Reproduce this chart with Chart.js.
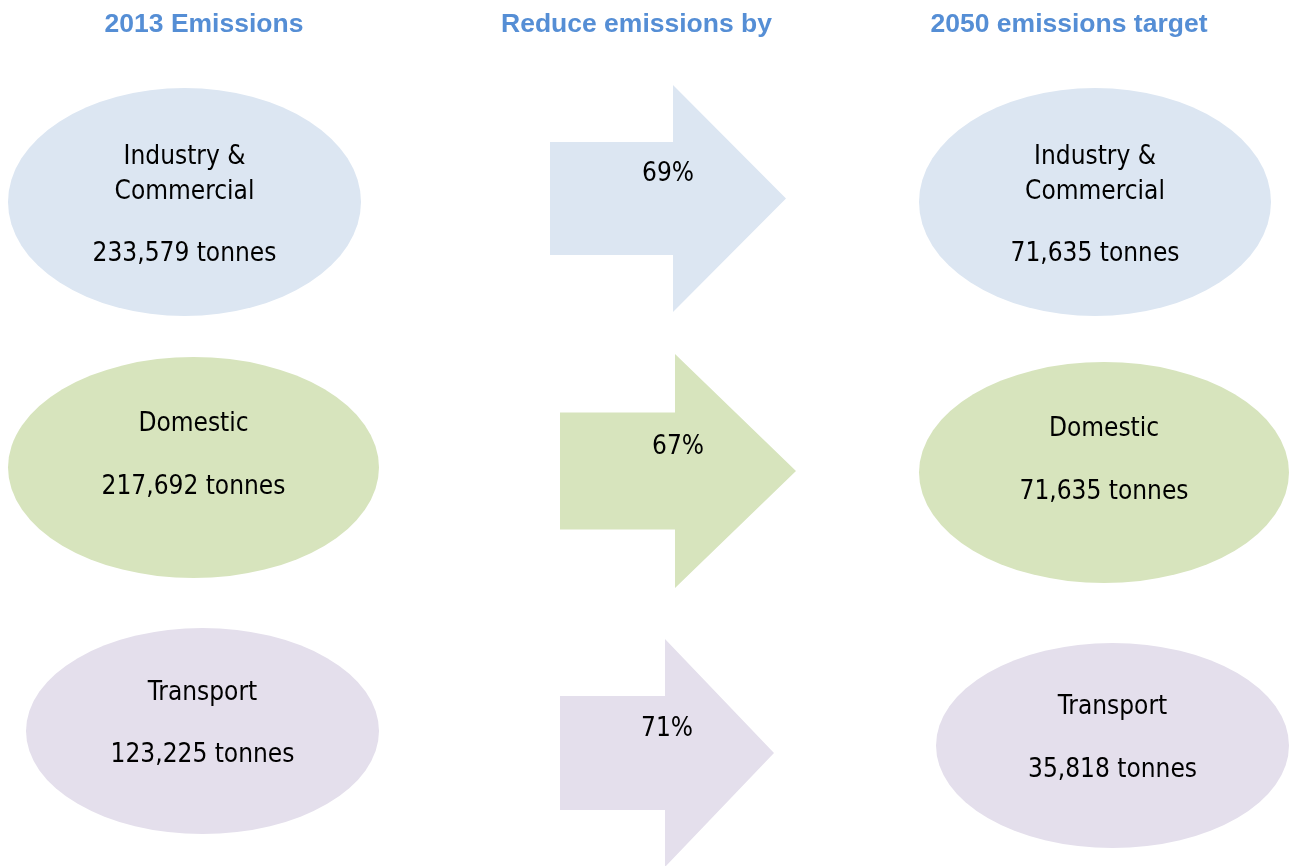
<!DOCTYPE html>
<html>
<head>
<meta charset="utf-8">
<title>Emissions reduction targets</title>
<script src="https://cdn.jsdelivr.net/npm/chart.js@4"></script>
<style>
  html, body { margin: 0; padding: 0; background: #fff; }
  #wrap { position: relative; width: 1289px; height: 866px; }
</style>
</head>
<body>
<div id="wrap"><canvas id="emissionsChart"></canvas></div>
<script>
// data
const columns = ['2013 Emissions', 'Reduce emissions by', '2050 emissions target'];
const sectors = ['Industry & Commercial', 'Domestic', 'Transport'];
const sectorLines = [['Industry &', 'Commercial'], ['Domestic'], ['Transport']];
const emissions2013 = [233579, 217692, 123225];
const reductionPct = [69, 67, 71];
const target2050 = [71635, 71635, 35818];

// styling (per row): fill colour, ellipse size/nudge, arrow shape
const fills = ['#dce6f2', '#d7e4bd', '#e4dfec'];
const rowStyle = [
  { left: { dx: -19.5, dy: 0, rx: 176.5, ry: 114 },
    right: { dx: 26, dy: 0, rx: 176, ry: 114 },
    arrow: { x0: -86.5, xHead: 36.5, xTip: 149.5, dy: -3.5, body: 56.5, head: 113.5 },
    textDy: 52.5 },
  { left: { dx: -10.5, dy: -2.5, rx: 185.5, ry: 110.5 },
    right: { dx: 35, dy: 2.5, rx: 185, ry: 110.5 },
    arrow: { x0: -76.5, xHead: 38.5, xTip: 159.5, dy: 1, body: 58.5, head: 117 },
    textDy: 19.5 },
  { left: { dx: -1.5, dy: -7, rx: 176.5, ry: 103 },
    right: { dx: 43.5, dy: 7.5, rx: 176.5, ry: 102.5 },
    arrow: { x0: -76.5, xHead: 28.5, xTip: 137.5, dy: 15, body: 57, head: 114 },
    textDy: 24.5 }
];
const bodyFont = '26px "DejaVu Sans Condensed", "DejaVu Sans", sans-serif';
const titleFont = 'bold 26.5px "Liberation Sans", Arial, sans-serif';
const titleColor = '#558ed5';
const lineGap = 35;

function fmt(n) { return n.toLocaleString('en-US'); }

function ellipseCentre(pt, s) {
  return { x: pt.x + s.dx, y: pt.y + s.dy };
}

const shapesPlugin = {
  id: 'shapes',
  beforeDatasetsDraw(chart) {
    const ctx = chart.ctx;
    chart.data.datasets.forEach((ds, di) => {
      const meta = chart.getDatasetMeta(di);
      meta.data.forEach((pt, i) => {
        const st = rowStyle[i];
        ctx.save();
        ctx.fillStyle = fills[i];
        if (ds.kind === 'arrow') {
          const a = st.arrow;
          const cy = pt.y + a.dy;
          ctx.beginPath();
          ctx.moveTo(pt.x + a.x0, cy - a.body);
          ctx.lineTo(pt.x + a.xHead, cy - a.body);
          ctx.lineTo(pt.x + a.xHead, cy - a.head);
          ctx.lineTo(pt.x + a.xTip, cy);
          ctx.lineTo(pt.x + a.xHead, cy + a.head);
          ctx.lineTo(pt.x + a.xHead, cy + a.body);
          ctx.lineTo(pt.x + a.x0, cy + a.body);
          ctx.closePath();
          ctx.fill();
        } else {
          const s = st[ds.kind];
          const c = ellipseCentre(pt, s);
          ctx.beginPath();
          ctx.ellipse(c.x, c.y, s.rx, s.ry, 0, 0, Math.PI * 2);
          ctx.fill();
        }
        ctx.restore();
      });
    });
  },
  afterDatasetsDraw(chart) {
    const ctx = chart.ctx;
    ctx.save();
    ctx.fillStyle = '#000';
    ctx.font = bodyFont;
    ctx.textAlign = 'center';
    ctx.textBaseline = 'middle';
    chart.data.datasets.forEach((ds, di) => {
      const meta = chart.getDatasetMeta(di);
      meta.data.forEach((pt, i) => {
        const st = rowStyle[i];
        const raw = ds.data[i];
        if (ds.kind === 'arrow') {
          const a = st.arrow;
          const x = pt.x + (a.x0 + a.xTip) / 2;
          ctx.fillText(raw.v + '%', x, pt.y + a.dy - 24);
        } else {
          const c = ellipseCentre(pt, st[ds.kind]);
          const lines = sectorLines[i];
          const valueY = c.y + st.textDy;
          lines.forEach((ln, k) => {
            const y = valueY - 62.5 - (lines.length - 1 - k) * lineGap;
            ctx.fillText(ln, c.x, y);
          });
          ctx.fillText(fmt(raw.v) + ' tonnes', c.x, valueY);
        }
      });
    });
    ctx.restore();
  },
  afterDraw(chart) {
    const ctx = chart.ctx;
    const xs = chart.scales.x;
    ctx.save();
    ctx.font = titleFont;
    ctx.fillStyle = titleColor;
    ctx.textAlign = 'center';
    ctx.textBaseline = 'middle';
    columns.forEach((c, i) => {
      ctx.fillText(c, xs.getPixelForValue(i), 25);
    });
    ctx.restore();
  }
};

const ctx = document.getElementById('emissionsChart').getContext('2d');
const chart = new Chart(ctx, {
  type: 'scatter',
  data: {
    datasets: [
      { label: columns[0], kind: 'left',
        data: sectors.map((s, i) => ({ x: columns[0], y: s, v: emissions2013[i] })) },
      { label: columns[1], kind: 'arrow',
        data: sectors.map((s, i) => ({ x: columns[1], y: s, v: reductionPct[i] })) },
      { label: columns[2], kind: 'right',
        data: sectors.map((s, i) => ({ x: columns[2], y: s, v: target2050[i] })) }
    ]
  },
  options: {
    responsive: true,
    maintainAspectRatio: false,
    animation: false,
    elements: { point: { radius: 0, hoverRadius: 0 } },
    layout: { padding: { left: 204, right: 220, top: 202, bottom: 128 } },
    scales: {
      x: { type: 'category', labels: columns, offset: false, display: false },
      y: { type: 'category', labels: sectors, offset: false, display: false }
    },
    plugins: {
      legend: { display: false },
      tooltip: { enabled: false }
    }
  },
  plugins: [shapesPlugin]
});
</script>
</body>
</html>
